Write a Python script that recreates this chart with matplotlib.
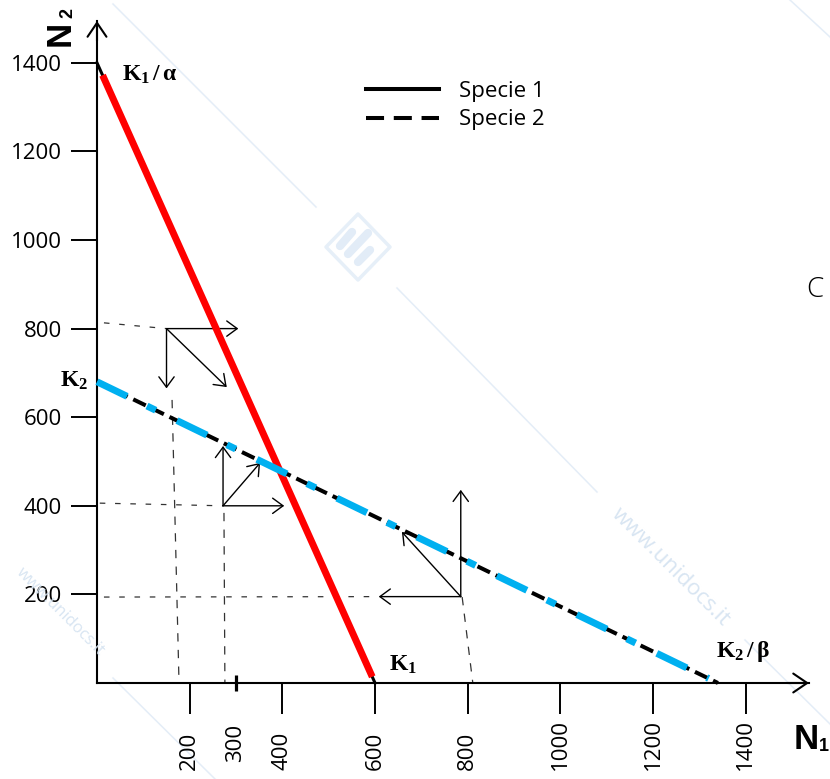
import matplotlib
matplotlib.use('Agg')
import matplotlib.pyplot as plt
import matplotlib.transforms as mtransforms
from matplotlib.lines import Line2D
from matplotlib.patches import Polygon

plt.rcParams['font.family'] = ['Open Sans', 'DejaVu Sans']
plt.rcParams['lines.scale_dashes'] = False
plt.rcParams['mathtext.fontset'] = 'custom'
plt.rcParams['mathtext.rm'] = 'Liberation Serif:bold'
plt.rcParams['mathtext.it'] = 'Liberation Serif:bold:italic'
plt.rcParams['mathtext.bf'] = 'Liberation Serif:bold'

# ---------------- data ----------------
x_ticks = [200, 400, 600, 800, 1000, 1200, 1400]
x_tick_labels = ['200', '400', '600', '800', '1000', '1200', '1400']
x_minor_ticks = [300]
x_minor_labels = ['300']
y_ticks = [200, 400, 600, 800, 1000, 1200, 1400]
y_tick_labels = ['200', '400', '600', '800', '1000', '1200', '1400']

K1 = 600              # species 1 isocline, N1 intercept
K1_over_alpha = 1400  # species 1 isocline, N2 intercept
K2 = 680              # species 2 isocline, N2 intercept
K2_over_beta = 1340   # species 2 isocline, N1 intercept

species_names = ['Specie 1', 'Specie 2']

# state points (N1, N2) and the tips of their arrows
state_points = [(150, 800), (272, 400), (785, 195)]
arrow_tips = [
    [(305, 800), (150, 665), (280, 668)],
    [(404, 400), (272, 535), (352, 497)],
    [(608, 195), (785, 436), (658, 341)],
]
# dotted guide lines (start, end)
h_guides = [((15, 813), (150, 800)), ((6, 406), (272, 400)), ((15, 194), (608, 195))]
v_guides = [((162, 639), (177, 0)), ((274, 384), (276, 0)), ((788, 194), (811, 0))]

# ---------------- figure ----------------
W, H = 830, 779
fig = plt.figure(figsize=(W / 100, H / 100), dpi=100)
px = mtransforms.Affine2D().scale(1, -1).translate(0, H)  # image-pixel transform (decor only)

ox, oy = 97, 683      # axes origin (pixels)
tipx, tipy = 809, 21  # arrow tips of the axes
sx, sy = 0.4634, 0.443
ax = fig.add_axes([ox / W, (H - oy) / H, (tipx - ox) / W, (oy - tipy) / H])
ax.set_xlim(0, (tipx - ox) / sx)
ax.set_ylim(0, (oy - tipy) / sy)
ax.patch.set_alpha(0)

# faint watermark (decoration)
wm = '#e4edf7'
for (a, b) in [((113, 4), (316, 207)), ((397, 288), (597, 492)), ((745, 640), (830, 724)),
               ((790, 0), (830, 37)), ((113, 678), (215, 779))]:
    fig.add_artist(Line2D([a[0], b[0]], [a[1], b[1]], color=wm, lw=1.1, transform=px, zorder=0))
fig.text(671, 567, 'www.unidocs.it', transform=px, rotation=-45, color='#d8e5f2',
         fontsize=16, ha='center', va='center', rotation_mode='anchor', zorder=0)
fig.text(60, 612, 'www.unidocs.it', transform=px, rotation=-45, color='#d8e5f2',
         fontsize=12, ha='center', va='center', rotation_mode='anchor', zorder=0)
fig.add_artist(Polygon([(326, 247), (358, 214), (390, 247), (358, 280)], closed=True, fill=False,
                       ec='#e6eff8', lw=2.5, joinstyle='round', transform=px, zorder=0))
for (a, b) in [((340, 246), (352, 232)), ((348, 254), (368, 233)), ((358, 262), (370, 250))]:
    fig.add_artist(Line2D([a[0], b[0]], [a[1], b[1]], color='#e2ecf7', lw=6,
                          solid_capstyle='round', transform=px, zorder=0))

# axes spines & ticks
for s in ['top', 'right']:
    ax.spines[s].set_visible(False)
for s in ['left', 'bottom']:
    ax.spines[s].set_linewidth(1.5)
ax.set_xticks(x_ticks, x_tick_labels)
ax.set_xticks(x_minor_ticks, x_minor_labels, minor=True)
ax.set_yticks(y_ticks, y_tick_labels)
ax.tick_params(axis='x', which='major', direction='out', length=22.3, width=1.4, pad=40.3,
               labelrotation=90, labelsize=16)
ax.tick_params(axis='x', which='minor', direction='inout', length=11.5, width=2.3, pad=51,
               labelrotation=90, labelsize=16)
ax.tick_params(axis='y', direction='out', length=18.7, width=1.4, pad=6.5, labelsize=16)
plt.setp(ax.get_xticklabels(), va='bottom')
plt.setp(ax.get_xticklabels(minor=True), va='bottom')

arrow_ax = dict(arrowstyle='->,head_length=1.0,head_width=0.68', lw=1.5, color='k',
                shrinkA=0, shrinkB=0, mutation_scale=10)
ax.annotate('', xy=(1, 0), xytext=(0.97, 0), xycoords='axes fraction', arrowprops=arrow_ax,
            annotation_clip=False)
ax.annotate('', xy=(0, 1), xytext=(0, 0.97), xycoords='axes fraction', arrowprops=arrow_ax,
            annotation_clip=False)

# guide lines
for (a, b) in h_guides:
    ax.plot([a[0], b[0]], [a[1], b[1]], color='#333333', lw=0.9, ls=(0, (4, 7)), zorder=2,
            clip_on=False)
for (a, b) in v_guides:
    ax.plot([a[0], b[0]], [a[1], b[1]], color='#333333', lw=0.9, ls=(0, (6, 6)), zorder=2,
            clip_on=False)

# arrows of the state points
arrow_kw = dict(arrowstyle='->,head_length=0.75,head_width=0.55', lw=1.0, color='k',
                shrinkA=0, shrinkB=0, mutation_scale=10)
for p, tips in zip(state_points, arrow_tips):
    for t in tips:
        ax.annotate('', xy=t, xytext=p, arrowprops=arrow_kw, zorder=3)

# species 1 isocline
s1x = [0, K1]
s1y = [K1_over_alpha, 0]
ax.plot(s1x, s1y, color='k', lw=2.2, zorder=4, clip_on=False)
t0, t1 = 0.02, 0.99
ax.plot([s1x[0] + t0 * (s1x[1] - s1x[0]), s1x[0] + t1 * (s1x[1] - s1x[0])],
        [s1y[0] + t0 * (s1y[1] - s1y[0]), s1y[0] + t1 * (s1y[1] - s1y[0])],
        color='#FF0000', lw=5, solid_capstyle='butt', zorder=5, clip_on=False)

# species 2 isocline
s2x = [0, K2_over_beta]
s2y = [K2, 0]
ax.plot(s2x, s2y, color='k', lw=2.9, ls=(0, (10, 4.5)), dash_capstyle='butt', zorder=6,
        clip_on=False)
u0, u1 = 0.0, 0.985
ax.plot([s2x[0] + u0 * (s2x[1] - s2x[0]), s2x[0] + u1 * (s2x[1] - s2x[0])],
        [s2y[0] + u0 * (s2y[1] - s2y[0]), s2y[0] + u1 * (s2y[1] - s2y[0])],
        color='#00B0F0', lw=5, ls=(0, (24, 16, 7, 17)), dash_capstyle='butt', zorder=7,
        clip_on=False)

# intercept labels
lab_kw = dict(textcoords='offset points', fontsize=17, annotation_clip=False)
ax.annotate(r'$\mathrm{K_1\,/\,\alpha}$', xy=(0, K1_over_alpha), xytext=(18, -8.6),
            ha='left', va='center', **lab_kw)
ax.annotate(r'$\mathrm{K_2}$', xy=(0, K2), xytext=(-6.5, 0.5), ha='right', va='center', **lab_kw)
ax.annotate(r'$\mathrm{K_1}$', xy=(K1, 0), xytext=(10, 13), ha='left', va='center', **lab_kw)
ax.annotate(r'$\mathrm{K_2\,/\,\beta}$', xy=(K2_over_beta, 0), xytext=(-1.4, 23), ha='left',
            va='center', **lab_kw)

# axis titles
nfam = ['Liberation Sans Narrow', 'Liberation Sans', 'DejaVu Sans']
ax.annotate('N', xy=(0, 1), xycoords='axes fraction', xytext=(-26.6, -8.6),
            textcoords='offset points', rotation=90, ha='center', va='center', fontsize=25,
            fontweight='bold', family=nfam, annotation_clip=False)
ax.annotate('2', xy=(0, 1), xycoords='axes fraction', xytext=(-20.9, 5.5),
            textcoords='offset points', rotation=90, ha='center', va='center', fontsize=13,
            fontweight='bold', family=nfam, annotation_clip=False)
ax.annotate('N', xy=(1, 0), xycoords='axes fraction', xytext=(-2.2, -41),
            textcoords='offset points', ha='center', va='center', fontsize=25,
            fontweight='bold', family=nfam, annotation_clip=False)
ax.annotate('1', xy=(1, 0), xycoords='axes fraction', xytext=(11, -46),
            textcoords='offset points', ha='center', va='center', fontsize=13,
            fontweight='bold', family=nfam, annotation_clip=False)

# legend
handles = [Line2D([], [], color='k', lw=2.9),
           Line2D([], [], color='k', lw=2.9, ls=(0, (13, 7)), dash_capstyle='butt')]
fig.legend(handles, species_names, loc='upper left', bbox_to_anchor=(366 / W, 1 - 81 / H),
           frameon=False, fontsize=16, handlelength=3.29, handletextpad=0.9,
           borderpad=0, borderaxespad=0, labelspacing=0.33)

# stray glyph
fig.text(815, 290, 'C', transform=px, fontsize=20, family=['Open Sans'],
         fontweight='light', ha='center', va='center', color='#000000')

fig.savefig('out.png', dpi=100)
